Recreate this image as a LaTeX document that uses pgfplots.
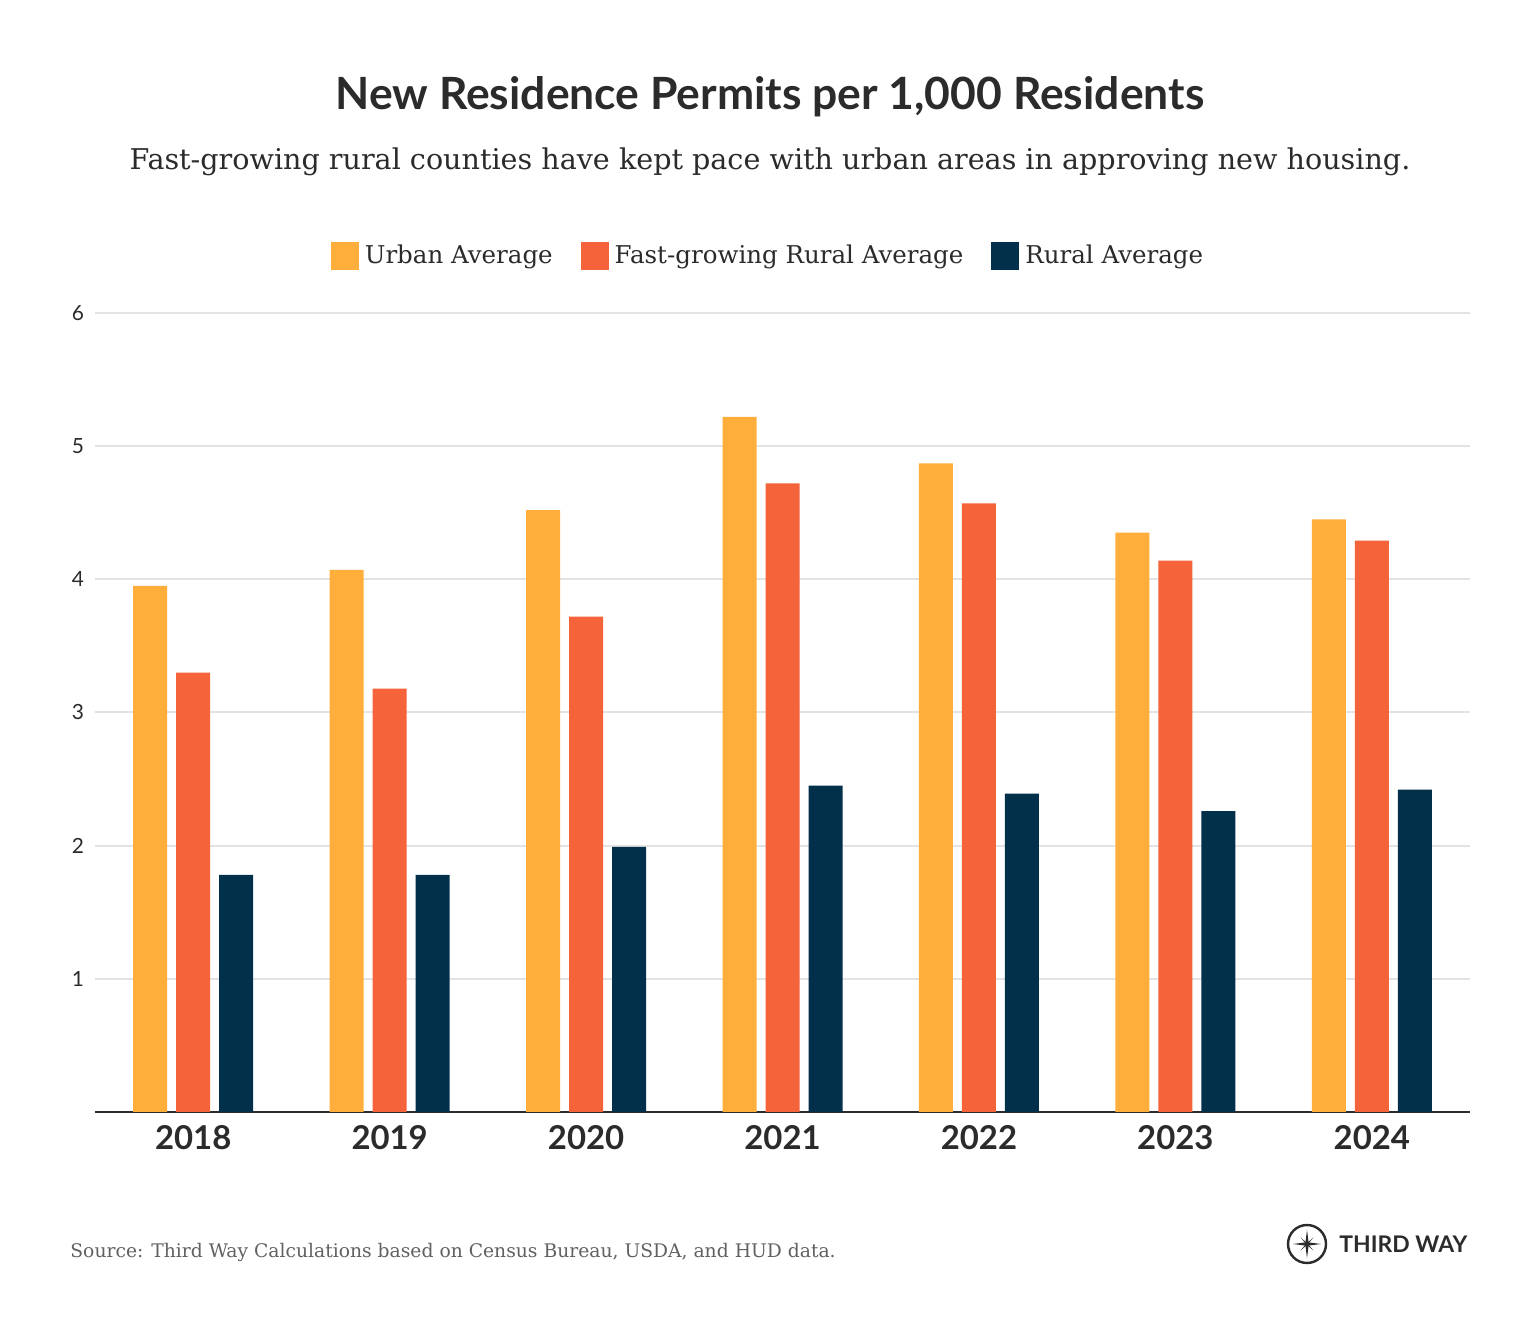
\documentclass[border=0pt]{standalone}
\usepackage{fontspec}
\setmainfont{DejaVu Serif}
\newfontfamily\sansf{Lato}
\usepackage{pgfplots}
\pgfplotsset{compat=1.18}
\definecolor{urban}{HTML}{FFAD3B}
\definecolor{fast}{HTML}{F5633B}
\definecolor{rural}{HTML}{02304A}
\definecolor{txt}{HTML}{2B2B2B}
\definecolor{gridc}{HTML}{E3E3E3}
\begin{document}
\begin{tikzpicture}[x=1bp,y=1bp]
\path[fill=white] (0,0) rectangle (770,667);
\node[anchor=base,text=txt,font=\sansf\bfseries\fontsize{22.3}{26}\selectfont] at (385,612) {New Residence Permits per 1,000 Residents};
\node[anchor=base,text=txt,font=\fontsize{14.35}{17}\selectfont] at (385,582) {Fast-growing rural counties have kept pace with urban areas in approving new housing.};
\begin{axis}[
  at={(47.5bp,111bp)}, anchor=south west,
  width=687.5bp, height=399.5bp, scale only axis,
  xmin=-0.5, xmax=6.5, ymin=0, ymax=6,
  ybar=4.5bp, bar width=17bp,
  xtick={0,...,6}, xticklabels={2018,2019,2020,2021,2022,2023,2024},
  ytick={1,...,6},
  major tick length=0pt,
  axis x line*=bottom, axis y line*=left,
  x axis line style={color=txt, line width=1bp},
  y axis line style={draw=none},
  ymajorgrids, grid style={gridc, line width=1bp},
  yticklabel style={font=\sansf\fontsize{10.5}{12}\selectfont, text=txt, anchor=east, xshift=-2bp},
  xticklabel style={font=\sansf\bfseries\fontsize{16.5}{20}\selectfont, text=txt, yshift=-3bp},
  /pgf/number format/assume math mode=true,
  legend columns=3,
  legend style={at={(axis description cs:0.4909,1.0713)}, anchor=center, draw=none, fill=none,
    font=\fontsize{12.3}{15}\selectfont, text=txt,
    /tikz/every even column/.append style={column sep=11bp},
    nodes={inner xsep=3bp, inner ysep=1bp}},
  legend image code/.code={\fill[#1] (0bp,-7bp) rectangle (14bp,7bp);},
]
\addplot[fill=urban, draw=none] coordinates {(0,3.95) (1,4.07) (2,4.52) (3,5.22) (4,4.87) (5,4.35) (6,4.45)};
\addplot[fill=fast, draw=none] coordinates {(0,3.30) (1,3.18) (2,3.72) (3,4.72) (4,4.57) (5,4.14) (6,4.29)};
\addplot[fill=rural, draw=none] coordinates {(0,1.78) (1,1.78) (2,1.99) (3,2.45) (4,2.39) (5,2.26) (6,2.42)};
\legend{Urban Average, Fast-growing Rural Average, Rural Average}
\end{axis}
\node[anchor=base west,inner sep=0pt,font=\fontsize{9.4}{12}\selectfont,text=black!62] at (35,38) {Source: Third Way Calculations based on Census Bureau, USDA, and HUD data.};
% logo
\begin{scope}[shift={(653.5,45)}]
\draw[txt,line width=1.2bp] (0,0) circle (9.5);
\fill[txt] (0,7) -- (0.8,0.8) -- (7,0) -- (0.8,-0.8) -- (0,-7) -- (-0.8,-0.8) -- (-7,0) -- (-0.8,0.8) -- cycle;
\fill[txt] (45:4.5) -- (0.5,0) -- (225:4.5) -- (-0.5,0) -- cycle;
\fill[txt] (135:4.5) -- (0,0.5) -- (315:4.5) -- (0,-0.5) -- cycle;
\end{scope}
\node[anchor=base west,inner sep=0pt,text=txt,font=\sansf\bfseries\fontsize{11.5}{13}\selectfont] at (669.5,40.5) {THIRD WAY};
\end{tikzpicture}
\end{document}
